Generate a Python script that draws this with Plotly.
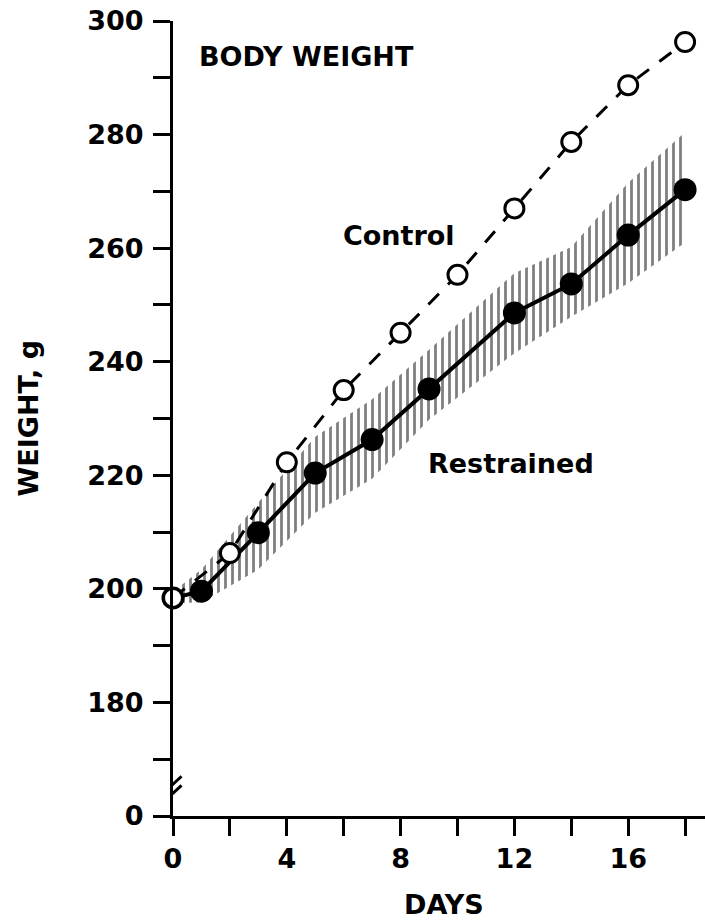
import plotly.graph_objects as go

# Body weight (g) over days
control_days = [0, 2, 4, 6, 8, 10, 12, 14, 16, 18]
control_weight = [198.4, 206.3, 222.3, 235.0, 245.1, 255.3, 267.0, 278.7, 288.7, 296.3]

restrained_days = [0, 1, 3, 5, 7, 9, 12, 14, 16, 18]
restrained_weight = [198.4, 199.6, 209.9, 220.4, 226.3, 235.2, 248.6, 253.7, 262.3, 270.3]
restrained_hi = [199.5, 203.4, 215.2, 226.8, 233.4, 242.1, 255.6, 260.2, 271.5, 280.4]
restrained_lo = [197.5, 197.6, 203.4, 213.4, 219.4, 229.8, 241.5, 247.9, 253.8, 261.0]

x_tickvals = [0, 2, 4, 6, 8, 10, 12, 14, 16, 18]
x_ticktext = ["0", "", "4", "", "8", "", "12", "", "16", ""]
# the lowest tick (160 on the scale) stands for 0 across the axis break
y_tickvals = [160, 170, 180, 190, 200, 210, 220, 230, 240, 250, 260, 270, 280, 290, 300]
y_ticktext = ["0", "", "180", "", "200", "", "220", "", "240", "", "260", "", "280", "", "300"]

FONT = dict(family="DejaVu Sans", size=27, color="black", weight="bold")

fig = go.Figure()

# hatched variability band around the restrained group
fig.add_trace(go.Scatter(
    x=restrained_days, y=restrained_lo, mode="lines",
    line=dict(width=0, color="rgba(0,0,0,0)"), showlegend=False, hoverinfo="skip",
))
fig.add_trace(go.Scatter(
    x=restrained_days, y=restrained_hi, mode="lines",
    line=dict(width=0, color="rgba(0,0,0,0)"),
    fill="tonexty", fillcolor="rgba(0,0,0,0)",
    fillpattern=dict(shape="|", size=7, solidity=0.4, fgcolor="black",
                     bgcolor="rgba(0,0,0,0)", fillmode="overlay"),
    showlegend=False, hoverinfo="skip",
))

# restrained: solid line, filled circles
fig.add_trace(go.Scatter(
    x=restrained_days, y=restrained_weight, mode="lines+markers",
    line=dict(color="black", width=4),
    marker=dict(symbol="circle", size=23, color="black"),
    cliponaxis=False, showlegend=False,
))

# control: dashed line, open circles
fig.add_trace(go.Scatter(
    x=control_days, y=control_weight, mode="lines+markers",
    line=dict(color="black", width=3, dash="15px,13px"),
    marker=dict(symbol="circle", size=19, color="white",
                line=dict(color="black", width=3)),
    cliponaxis=False, showlegend=False,
))

# axis break marks
for yc in (164.0, 165.6):
    fig.add_shape(type="line", xref="x", yref="y",
                  x0=-0.3, y0=yc - 1.4, x1=0.3, y1=yc + 1.4,
                  line=dict(color="black", width=3))

annotations = [
    dict(text="BODY WEIGHT", x=4.68, y=293.8, xref="x", yref="y"),
    dict(text="Control", x=7.95, y=262.3, xref="x", yref="y"),
    dict(text="Restrained", x=11.87, y=222.0, xref="x", yref="y"),
    dict(text="DAYS", x=9.52, y=0, xref="x", yref="paper", yshift=-88),
    dict(text="WEIGHT, g", x=0, y=0.5, xref="paper", yref="paper",
         xshift=-145, textangle=-90),
]
for a in annotations:
    fig.add_annotation(showarrow=False, font=FONT, xanchor="center",
                       yanchor="middle", **a)

fig.update_layout(
    width=705, height=922,
    margin=dict(l=173, r=0, t=21, b=106),
    paper_bgcolor="white", plot_bgcolor="white",
    font=FONT,
    xaxis=dict(
        range=[0, 18.7], showgrid=False, zeroline=False,
        showline=True, linecolor="black", linewidth=3,
        ticks="outside", ticklen=17, tickwidth=3, tickcolor="black",
        tickvals=x_tickvals, ticktext=x_ticktext, tickfont=FONT,
    ),
    yaxis=dict(
        range=[160, 300], showgrid=False, zeroline=False,
        showline=True, linecolor="black", linewidth=3,
        ticks="outside", ticklen=17, tickwidth=3, tickcolor="black",
        tickvals=y_tickvals, ticktext=y_ticktext, tickfont=FONT,
        ticklabelstandoff=4,
    ),
)

fig.write_html("out.html")
